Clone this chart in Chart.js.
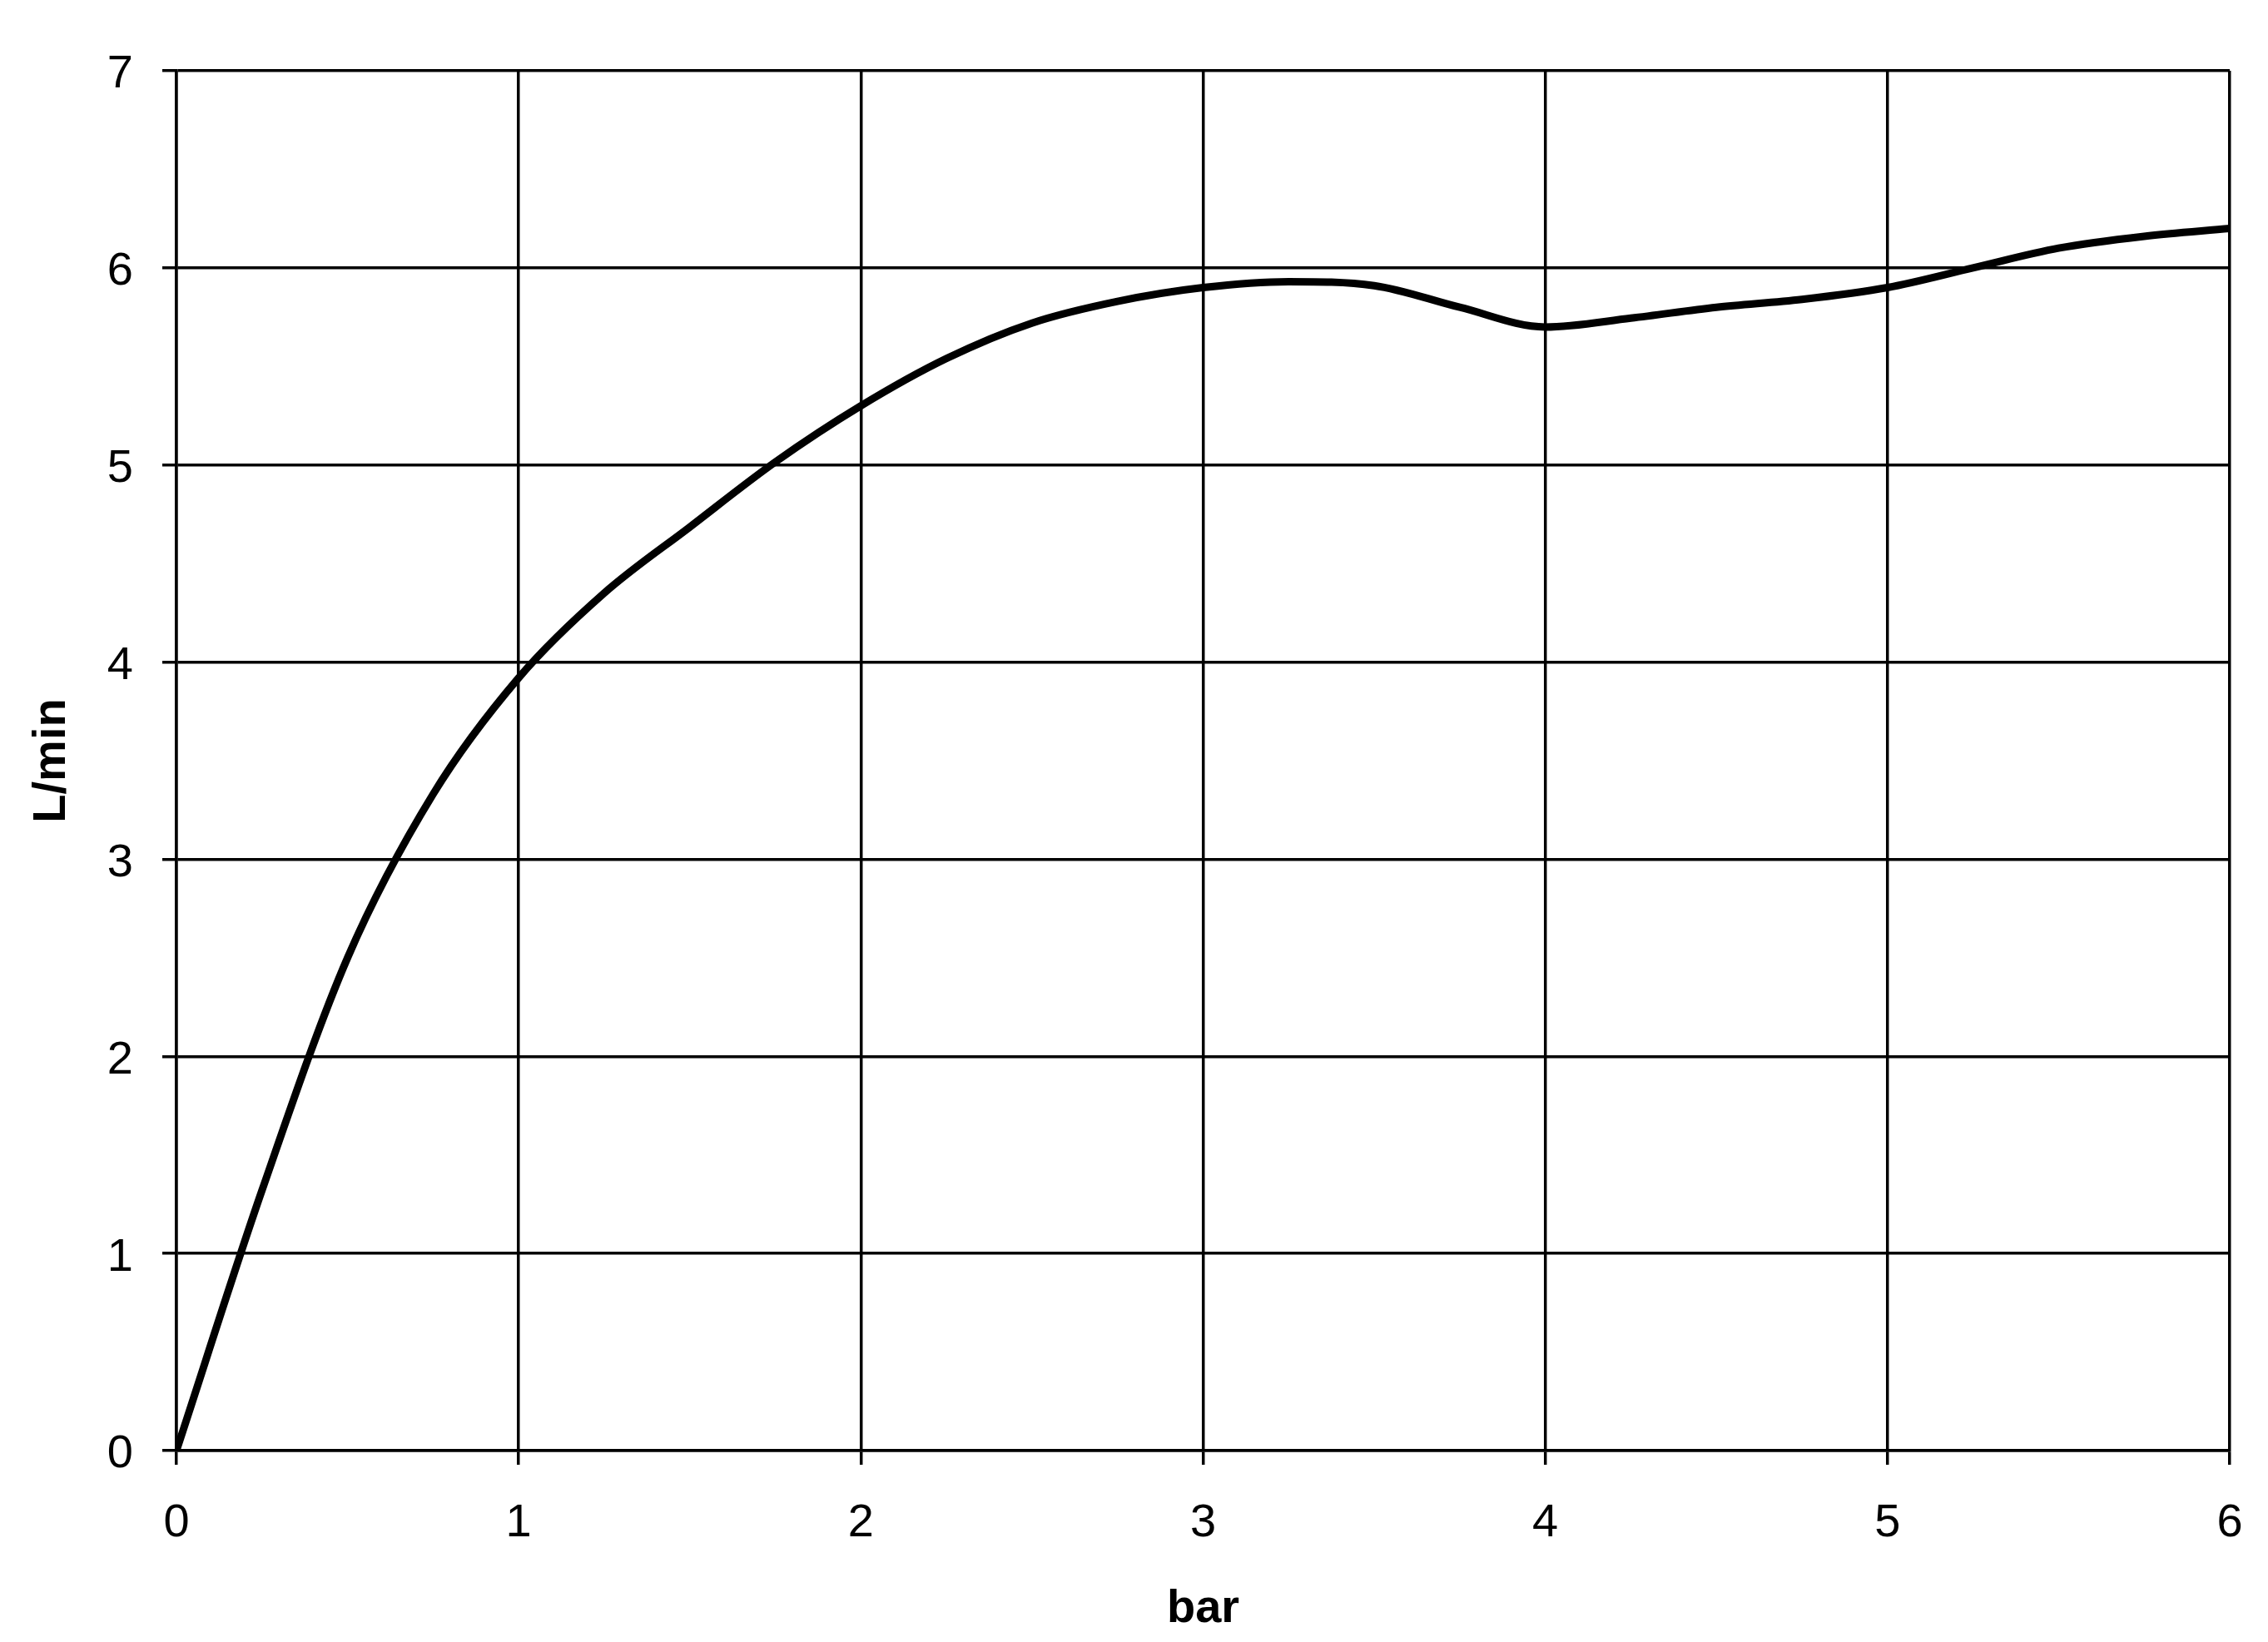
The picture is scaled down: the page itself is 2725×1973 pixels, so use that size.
<!DOCTYPE html>
<html>
<head>
<meta charset="utf-8">
<script src="https://cdn.jsdelivr.net/npm/chart.js@4.4.0/dist/chart.umd.min.js"></script>
<style>
  html, body { margin: 0; padding: 0; background: #fff; }
</style>
</head>
<body>
<canvas id="flowChart" width="2725" height="1973"></canvas>
<script>
// pressure (bar) vs flow (L/min)
const pressure = [0, 0.25, 0.5, 0.75, 1, 1.25, 1.5, 1.75, 2, 2.25, 2.5, 2.75, 3,
                  3.25, 3.5, 3.75, 4, 4.25, 4.5, 4.75, 5, 5.25, 5.5, 5.75, 6];
const flow = [0, 1.32, 2.50, 3.33, 3.92, 4.35, 4.685, 5.015, 5.30, 5.54, 5.72, 5.83, 5.90,
              5.93, 5.91, 5.80, 5.70, 5.745, 5.80, 5.84, 5.90, 6.00, 6.10, 6.16, 6.20];
const xRange = [0, 6];
const yRange = [0, 7];
const xTitle = 'bar';
const yTitle = 'L/min';

Chart.defaults.font.family = '"Liberation Sans", Arial, sans-serif';
Chart.defaults.color = '#000';

const points = pressure.map((p, i) => ({ x: p, y: flow[i] }));

const gridStyle = { color: '#000', lineWidth: 3.5, tickLength: 17, tickColor: '#000', tickWidth: 3.5 };
const borderStyle = { color: '#000', width: 3.5 };

const ctx = document.getElementById('flowChart').getContext('2d');
const flowChart = new Chart(ctx, {
    type: 'line',
    data: {
        datasets: [{
            data: points,
            borderColor: '#000',
            borderWidth: 9,
            borderCapStyle: 'round',
            borderJoinStyle: 'round',
            pointRadius: 0,
            cubicInterpolationMode: 'monotone',
            fill: false
        }]
    },
    options: {
        responsive: false,
        animation: false,
        devicePixelRatio: 1,
        layout: { padding: { top: 85, right: 46, left: 0, bottom: 0 } },
        plugins: { legend: { display: false }, tooltip: { enabled: false } },
        scales: {
            x: {
                type: 'linear',
                min: xRange[0],
                max: xRange[1],
                ticks: { stepSize: 1, padding: 37, font: { size: 56 } },
                grid: gridStyle,
                border: borderStyle,
                title: { display: true, text: xTitle, font: { size: 56, weight: 'bold' }, padding: { top: 0, bottom: 6 } },
                afterFit: (scale) => {
                    scale.height = 230;
                    scale.paddingLeft = 0;
                    scale.paddingRight = 0;
                }
            },
            y: {
                min: yRange[0],
                max: yRange[1],
                ticks: { stepSize: 1, padding: 35, labelOffset: 5, font: { size: 56 } },
                grid: gridStyle,
                border: borderStyle,
                title: { display: true, text: yTitle, font: { size: 56, weight: 'bold' }, padding: { top: 29, bottom: 0 } },
                afterFit: (scale) => {
                    scale.width = 212;
                    scale.paddingTop = 0;
                    scale.paddingBottom = 0;
                }
            }
        }
    }
});
</script>
</body>
</html>
